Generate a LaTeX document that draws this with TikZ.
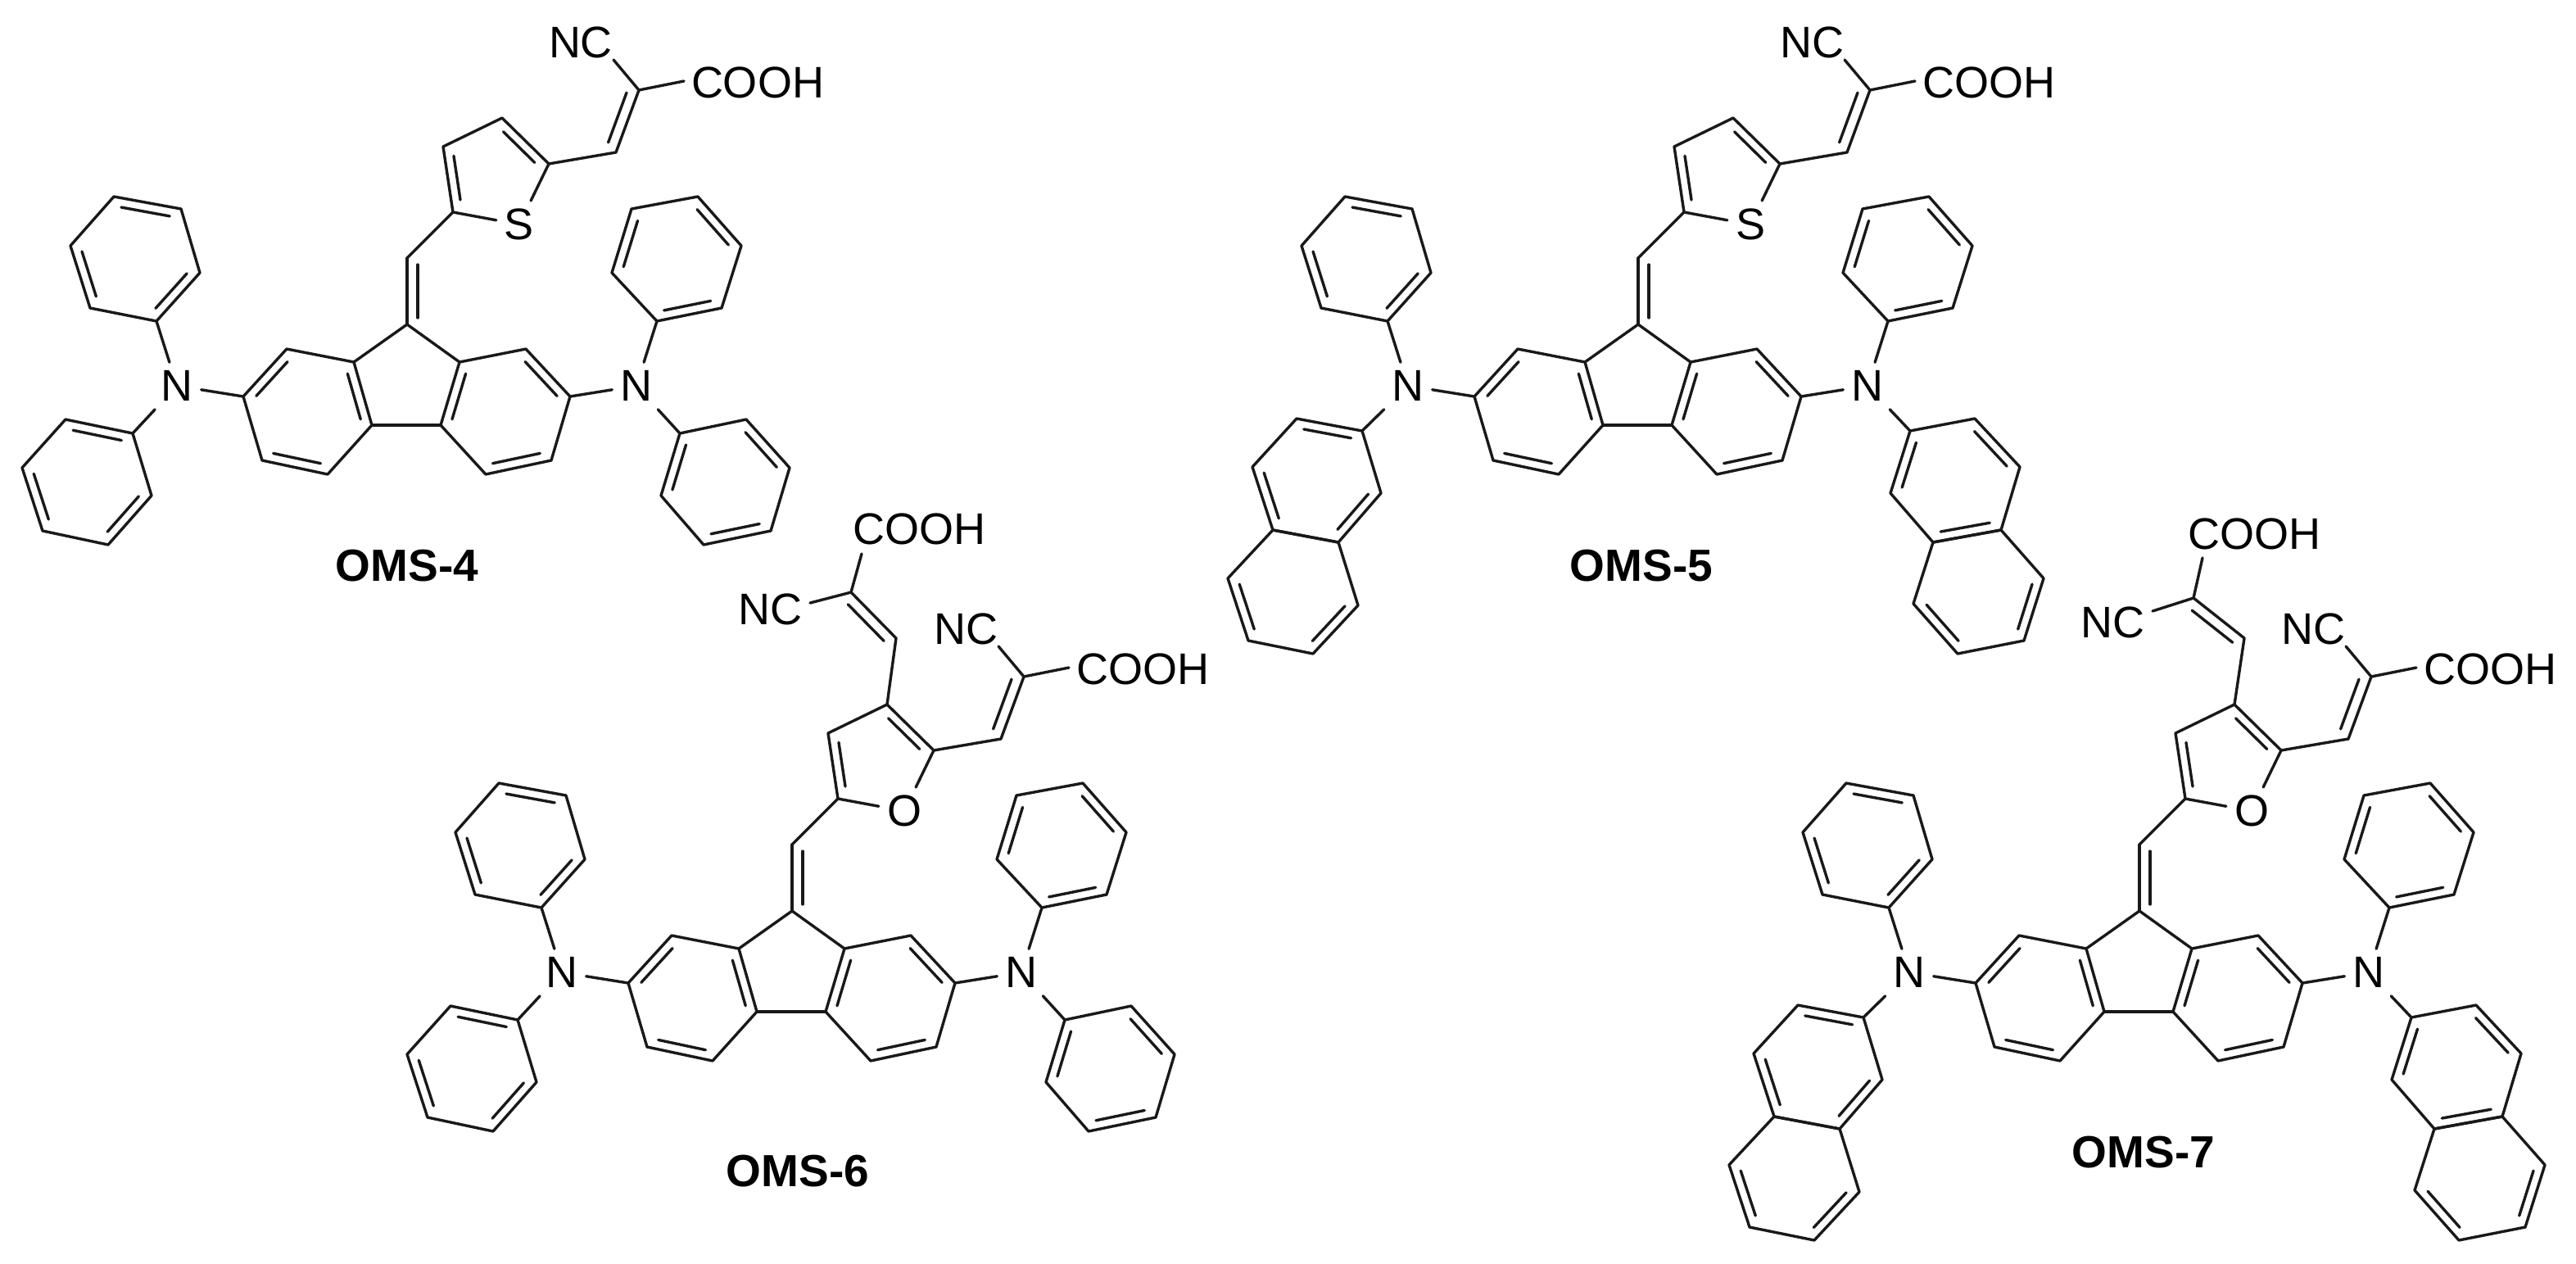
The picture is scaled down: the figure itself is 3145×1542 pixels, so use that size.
\documentclass[tikz,border=0pt]{standalone}
\usepackage{fontspec}
\setmainfont{Liberation Sans}
\usetikzlibrary{calc}
\tikzset{
  bond/.style={line width=3.4pt,line join=round,line cap=round,black!90},
  atom/.style={font=\fontsize{54}{54}\selectfont,inner sep=10pt,text depth=0pt,anchor=center,black},
  group/.style={font=\fontsize{54}{54}\selectfont,inner sep=0pt,text depth=0pt,anchor=center,black},
  title/.style={font=\fontsize{55}{55}\selectfont\bfseries,inner sep=0pt,text depth=0pt,anchor=center,black}
}
\newcommand\pts[1]{\foreach \n/\x/\y in {#1} \coordinate (\n) at (\x,\y);}
\newcommand\sixring[6]{\draw[bond] (#1)--(#2)--(#3)--(#4)--(#5)--(#6)--cycle; \coordinate (ctr) at ($(#1)!.5!(#4)$);}
\newcommand\idb[2]{\draw[bond] ($($(#1)!.07!(#2)$)!.16!(ctr)$) -- ($($(#1)!.93!(#2)$)!.16!(ctr)$);}
\newcommand\fdb[2]{\draw[bond] ($($(#1)!.08!(#2)$)!.2!(ctr)$) -- ($($(#1)!.92!(#2)$)!.2!(ctr)$);}
\newcommand\sdb[3]{\draw[bond] ($(#1)!.1!(#2)!#3!90:(#2)$) -- ($(#1)!.9!(#2)!#3!-90:(#1)$);}
\newcommand\core{%
  \pts{c9/497/396,axl/432/442,c1l/350/426,c2l/297/484,c3l/320/562,c4l/400/579,bxl/454/519,
       bxr/538/519,c4r/593/579,c3r/673/562,c2r/696/484,c1r/642/426,axr/561/442,exo/497/315}
  \sixring{axl}{c1l}{c2l}{c3l}{c4l}{bxl}
  \idb{c1l}{c2l}\idb{c3l}{c4l}\idb{bxl}{axl}
  \sixring{axr}{c1r}{c2r}{c3r}{c4r}{bxr}
  \idb{c1r}{c2r}\idb{c3r}{c4r}\idb{bxr}{axr}
  \draw[bond] (axl)--(c9)--(axr);
  \draw[bond] (bxl)--(bxr);
  \draw[bond] (c9)--(exo);
  \sdb{c9}{exo}{-13pt}
  \node[atom] (Nl) at (216,471) {N};
  \node[atom] (Nr) at (777,471) {N};
  \draw[bond] (Nl)--(c2l);
  \draw[bond] (Nr)--(c2r);
}
\newcommand\phtop{%
  \pts{ua/191/392,ub/110/376,uc/86/300,ud/139/240,ue/221/255,uf/244/333}
  \sixring{ua}{ub}{uc}{ud}{ue}{uf}\idb{ua}{uf}\idb{ub}{uc}\idb{ud}{ue}
  \draw[bond] (Nl)--(ua);
  \pts{va/802/392,vb/881/376,vc/905/300,vd/852/240,ve/771/255,vf/747/333}
  \sixring{va}{vb}{vc}{vd}{ve}{vf}\idb{va}{vb}\idb{vc}{vd}\idb{ve}{vf}
  \draw[bond] (Nr)--(va);
}
\newcommand\phlow{%
  \pts{la/162/529,lb/80/512,lc/27/571,ld/52/648,le/132/665,lf/185/605}
  \sixring{la}{lb}{lc}{ld}{le}{lf}\idb{la}{lb}\idb{lc}{ld}\idb{le}{lf}
  \draw[bond] (Nl)--(la);
  \pts{ra/830/529,rb/911/512,rc/964/571,rd/941/648,re/859/665,rf/807/605}
  \sixring{ra}{rb}{rc}{rd}{re}{rf}\idb{ra}{rf}\idb{rb}{rc}\idb{rd}{re}
  \draw[bond] (Nr)--(ra);
}
\newcommand\naph{%
  \pts{la/160/526,lb/80/511,lc/26/570,ld/51/647,le/131/662,lf/183/602,lg/155/739,lh/100/798,li/21/782,lj/-4/706}
  \sixring{la}{lb}{lc}{ld}{le}{lf}\idb{la}{lb}\idb{lc}{ld}\idb{le}{lf}
  \sixring{ld}{le}{lg}{lh}{li}{lj}\idb{lg}{lh}\idb{li}{lj}
  \draw[bond] (Nl)--(la);
  \pts{ra/829/526,rb/908/511,rc/963/570,rd/940/647,re/857/662,rf/805/602,rg/833/737,rh/887/798,ri/968/782,rj/992/706}
  \sixring{ra}{rb}{rc}{rd}{re}{rf}\idb{ra}{rf}\idb{rb}{rc}\idb{rd}{re}
  \sixring{rd}{re}{rg}{rh}{ri}{rj}\idb{rg}{rh}\idb{ri}{rj}
  \draw[bond] (Nr)--(ra);
}
\newcommand\het[1]{%
  \pts{t2/553/259,t3/541/179,t4/613/144,t5/670/200,ch/752/186,cc/780/110,nce/749/73,coe/835/99}
  \node[atom] (X) at (634,274) {#1};
  \coordinate (ctr) at (602,210);
  \draw[bond] (exo)--(t2)--(t3)--(t4)--(t5)--(ch)--(cc);
  \draw[bond] (t2)--(X);
  \draw[bond] (t5)--(X);
  \fdb{t2}{t3}\fdb{t4}{t5}
  \sdb{ch}{cc}{13pt}
  \node[group] (NC) at (709,52) {NC};
  \node[group] (CO) at (925,101) {COOH};
  \draw[bond] (cc)--(nce);
  \draw[bond] (cc)--(coe);
}
% #1 = alkene CH, #2 = C, #3 = NC, #4 = COOH, #5 = end of NC bond, #6 = end of COOH bond
\newcommand\toparm[6]{%
  \coordinate (ach) at (#1); \coordinate (acc) at (#2);
  \coordinate (anc) at (#5); \coordinate (aco) at (#6);
  \node[group] (NCa) at (#3) {NC};
  \node[group] (COa) at (#4) {COOH};
  \draw[bond] (t4)--(ach)--(acc);
  \sdb{ach}{acc}{13pt}
  \draw[bond] (acc)--(anc);
  \draw[bond] (acc)--(aco);
}
\begin{document}
\begin{tikzpicture}[x=1pt,y=-1pt]
\useasboundingbox (0,0) rectangle (3145,1542);
\fill[white] (0,0) rectangle (3145,1542);
\begin{scope}[name prefix=m4-]
  \core\phtop\phlow\het{S}
\end{scope}
\begin{scope}[shift={(1503,0)},name prefix=m5-]
  \core\phtop\naph\het{S}
\end{scope}
\begin{scope}[shift={(470,716)},name prefix=m6-]
  \core\phtop\phlow\het{O}
  \toparm{624,63}{569,7}{470,28}{652,-70}{519,20}{582,-40}
\end{scope}
\begin{scope}[shift={(2115,716)},name prefix=m7-]
  \core\phtop\naph\het{O}
  \toparm{625,63}{563,14}{464,44}{637,-64}{513,30}{574,-35}
\end{scope}
\node[title] (oms4) at (497,690) {OMS-4};
\node[title] (oms5) at (2004,690) {OMS-5};
\node[title] (oms6) at (974,1429) {OMS-6};
\node[title] (oms7) at (2617,1406) {OMS-7};
\end{tikzpicture}
\end{document}
